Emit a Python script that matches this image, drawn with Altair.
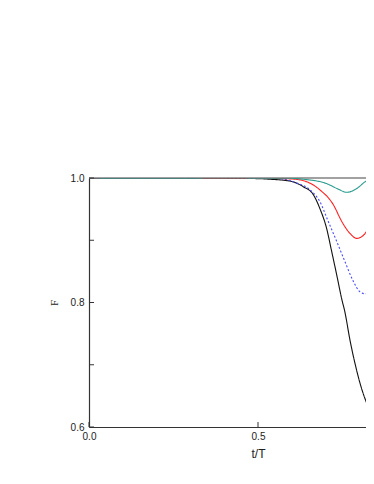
import altair as alt
import pandas as pd

# Curves (t/T, F)
black_t = [0.0, 0.2, 0.4, 0.5, 0.536, 0.595, 0.634, 0.664, 0.683, 0.703, 0.718, 0.733, 0.748, 0.757, 0.772, 0.787, 0.802, 0.822, 0.841, 0.86]
black_F = [1.0, 1.0, 0.9995, 0.999, 0.998, 0.995, 0.986, 0.973, 0.951, 0.919, 0.882, 0.844, 0.805, 0.785, 0.740, 0.702, 0.670, 0.638, 0.618, 0.610]

blue_t = [0.0, 0.2, 0.4, 0.5, 0.555, 0.614, 0.654, 0.683, 0.708, 0.733, 0.757, 0.782, 0.802, 0.817, 0.836, 0.86]
blue_F = [1.0, 1.0, 0.9998, 0.9995, 0.9995, 0.992, 0.981, 0.962, 0.930, 0.898, 0.866, 0.834, 0.817, 0.814, 0.818, 0.828]

red_t = [0.0, 0.2, 0.4, 0.5, 0.58, 0.624, 0.683, 0.723, 0.748, 0.772, 0.792, 0.812, 0.831, 0.843, 0.86]
red_F = [1.0, 1.0, 0.9998, 0.9998, 0.999, 0.997, 0.981, 0.957, 0.930, 0.911, 0.903, 0.908, 0.924, 0.938, 0.955]

teal_t = [0.0, 0.2, 0.4, 0.5, 0.6, 0.634, 0.703, 0.738, 0.762, 0.792, 0.817, 0.836, 0.86]
teal_F = [1.0, 0.9995, 1.0, 0.9998, 0.9995, 0.998, 0.991, 0.982, 0.977, 0.983, 0.994, 0.9995, 1.0]

series_names = ["black", "blue", "red", "teal"]
series_colors = ["#111111", "#4a4aff", "#ff2020", "#2a9d8f"]

rows = []
for name, ts, fs in [("black", black_t, black_F), ("blue", blue_t, blue_F),
                     ("red", red_t, red_F), ("teal", teal_t, teal_F)]:
    for i, (t, f) in enumerate(zip(ts, fs)):
        rows.append({"series": name, "t": t, "F": f, "order": i})
df = pd.DataFrame(rows)

y_ticks = [0.6, 0.7, 0.8, 0.9, 1.0]
x_ticks = [0.0, 0.5]
x_max = 277 / 338

xscale = alt.Scale(domain=[0, x_max], nice=False, zero=False)
yscale = alt.Scale(domain=[0.6, 1.0], nice=False, zero=False)

lines = alt.Chart(df).mark_line(strokeWidth=1.1, interpolate="monotone", clip=True).encode(
    x=alt.X("t:Q", scale=xscale,
            axis=alt.Axis(values=x_ticks, format=".1f", title="t/T", tickSize=0,
                          labelPadding=4, titlePadding=7, grid=False, labelFlush=False,
                          labelFont="Liberation Sans", labelFontSize=10,
                          titleFont="Liberation Sans", titleFontSize=12,
                          titleFontWeight="normal", labelColor="#222", titleColor="#222",
                          titleX=169)),
    y=alt.Y("F:Q", scale=yscale,
            axis=alt.Axis(values=y_ticks, title="F", tickSize=0, labelFlush=False,
                          labelExpr="(datum.value == 0.7 || datum.value == 0.9) ? '' : format(datum.value, '.1f')",
                          labelPadding=5, titlePadding=11, grid=False,
                          labelFont="Liberation Sans", labelFontSize=10,
                          titleFont="Liberation Serif", titleFontSize=11,
                          titleFontWeight="normal", labelColor="#222", titleColor="#222")),
    color=alt.Color("series:N", scale=alt.Scale(domain=series_names, range=series_colors), legend=None),
    strokeDash=alt.StrokeDash("series:N",
                              scale=alt.Scale(domain=series_names,
                                              range=[[1, 0], [2, 2], [1, 0], [1, 0]]),
                              legend=None),
    order="order:Q",
)

ydf = pd.DataFrame({"v": y_ticks})
xdf = pd.DataFrame({"v": x_ticks})
topdf = pd.DataFrame({"v": [1.0]})

yticks_m = alt.Chart(ydf).mark_rule(color="#333", strokeWidth=1).encode(
    y=alt.Y("v:Q", scale=yscale), x=alt.value(0), x2=alt.value(5))
xticks_m = alt.Chart(xdf).mark_rule(color="#333", strokeWidth=1).encode(
    x=alt.X("v:Q", scale=xscale), y=alt.value(249), y2=alt.value(244))
top_m = alt.Chart(topdf).mark_rule(color="#444", strokeWidth=1.2).encode(
    y=alt.Y("v:Q", scale=yscale), x=alt.value(0), x2=alt.value(277))

chart = alt.layer(top_m, lines, yticks_m, xticks_m).properties(
    width=277, height=249,
    padding={"left": 81, "top": 170, "right": 0, "bottom": 50},
    autosize=alt.AutoSizeParams(type="none"),
).configure_view(stroke=None).configure_axis(
    domainColor="#333", domainWidth=1.2
)

chart.save("out.html", embed_options={"renderer": "svg", "actions": False})
